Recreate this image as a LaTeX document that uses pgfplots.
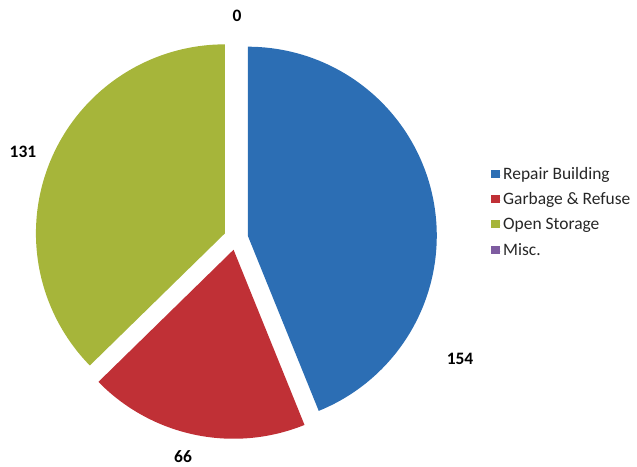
\documentclass[border=0pt]{standalone}
\usepackage{pgfplots}
\pgfplotsset{compat=1.18}
\usepackage{pgfplotstable}
\usepackage{fontspec}
\setmainfont{Carlito}
\definecolor{cBlue}{RGB}{44,110,180}
\definecolor{cRed}{RGB}{192,48,54}
\definecolor{cOlive}{RGB}{166,181,58}
\definecolor{cPurple}{RGB}{126,92,160}

\pgfplotstableread{
idx value
0 154
1 66
2 131
3 0
}\piedata

\pgfplotstablegetelem{0}{value}\of\piedata \let\vA\pgfplotsretval
\pgfplotstablegetelem{1}{value}\of\piedata \let\vB\pgfplotsretval
\pgfplotstablegetelem{2}{value}\of\piedata \let\vC\pgfplotsretval
\pgfplotstablegetelem{3}{value}\of\piedata \let\vD\pgfplotsretval
\pgfmathsetmacro{\tot}{\vA+\vB+\vC+\vD}
\pgfmathsetmacro{\aA}{90}
\pgfmathsetmacro{\bA}{\aA-360*(\vA/\tot)}
\pgfmathsetmacro{\bB}{\bA-360*(\vB/\tot)}
\pgfmathsetmacro{\bC}{\bB-360*(\vC/\tot)}
\def\pieCX{236}\def\pieCY{228}\def\pieR{189}\def\pieD{12}

\newcommand{\slice}[3]{%
  \pgfmathsetmacro{\midang}{(#1+#2)/2}%
  \pgfmathsetmacro{\ox}{\pieCX+\pieD*cos(\midang)}%
  \pgfmathsetmacro{\oy}{\pieCY+\pieD*sin(\midang)}%
  \edef\tmp{\noexpand\addplot[fill=#3, draw=none, mark=none, domain=#2:#1, samples=150, variable=\noexpand\t] ({\ox+\pieR*cos(\noexpand\t)},{\oy+\pieR*sin(\noexpand\t)}) -- (axis cs:\ox,\oy) -- cycle;}%
  \tmp
}

\begin{document}
\begin{tikzpicture}
\begin{axis}[
  scale only axis, width=637bp, height=466bp,
  xmin=0, xmax=637, ymin=0, ymax=466,
  hide axis, clip=false,
  cycle list={{draw=none, mark=none}},
  legend style={at={(axis cs:491,301)}, anchor=north west, draw=none, fill=none,
    font=\fontsize{17.5}{20}\selectfont, row sep=5.4bp, text=black!85, inner sep=0pt,
    nodes={text height=12bp, text depth=4bp},
    cells={anchor=west}},
  legend image code/.code={\fill[#1] (0bp,-2.5bp) rectangle (9bp,5.5bp); \path (0bp,0bp) -- (10bp,0bp);},
]
\path (axis cs:0,0) rectangle (axis cs:637,466);
\slice{\aA}{\bA}{cBlue}
\slice{\bA}{\bB}{cRed}
\slice{\bB}{\bC}{cOlive}
\addplot[fill=cPurple, draw=none, mark=none] coordinates {(\pieCX,\pieCY)};
\legend{Repair Building, Garbage \& Refuse, Open Storage, Misc.}
\node[font=\bfseries\fontsize{17.5}{20}\selectfont] at (axis cs:237,450) {0};
\node[font=\bfseries\fontsize{17.5}{20}\selectfont] at (axis cs:23,314) {131};
\node[font=\bfseries\fontsize{17.5}{20}\selectfont] at (axis cs:460,107) {154};
\node[font=\bfseries\fontsize{17.5}{20}\selectfont] at (axis cs:183,9) {66};
\end{axis}
\end{tikzpicture}
\end{document}
